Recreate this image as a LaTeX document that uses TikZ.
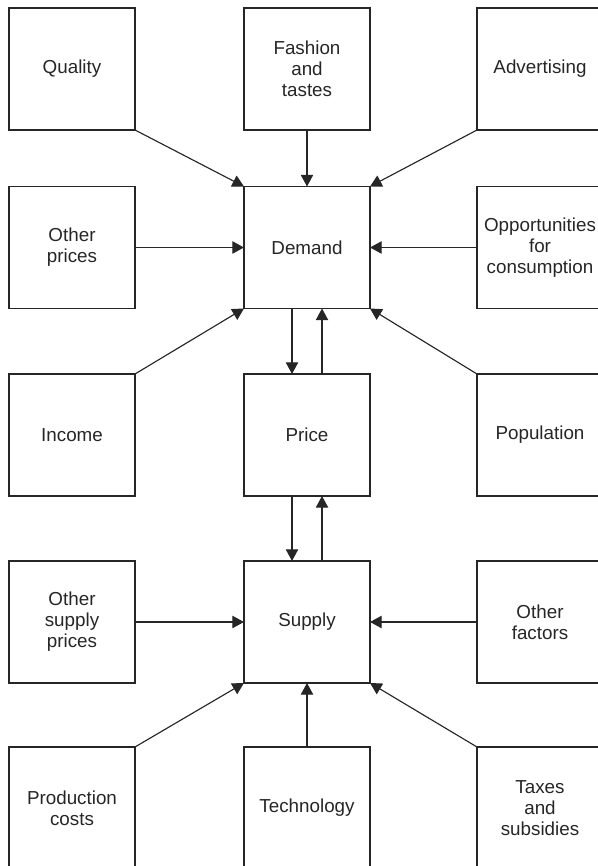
\documentclass[tikz,border=0pt]{standalone}
\usepackage{fontspec}
\setmainfont{Liberation Sans}
\usetikzlibrary{arrows.meta}
\begin{document}
\begin{tikzpicture}[
  box/.style={draw=black!85,line width=0.65pt,minimum width=2.52cm,minimum height=2.44cm,
    inner sep=0pt,outer sep=0pt,align=center,text=black!85,font=\fontsize{10.7}{12}\selectfont},
  arr/.style={draw=black!85,line width=0.65pt,-{Triangle[length=6.6pt,width=7pt]}}]
\useasboundingbox (0,0) rectangle (11.94,17.32);
% top row
\node[box] (quality) at (1.44,15.94) {Quality};
\node[box] (fashion) at (6.14,15.94) {Fashion\\and\\tastes};
\node[box] (advert) at (10.80,15.94) {Advertising};
% demand row
\node[box] (otherprices) at (1.44,12.37) {Other\\prices};
\node[box] (demand) at (6.14,12.37) {Demand};
\node[box] (opport) at (10.80,12.37) {Opportunities\\for\\consumption};
% price row
\node[box] (income) at (1.44,8.62) {Income};
\node[box] (price) at (6.14,8.62) {Price};
\node[box] (popul) at (10.80,8.62) {Population};
% supply row
\node[box] (othersupply) at (1.44,4.88) {Other\\supply\\prices};
\node[box] (supply) at (6.14,4.88) {Supply};
\node[box] (otherfact) at (10.80,4.88) {Other\\factors};
% bottom row
\node[box] (prodcost) at (1.44,1.16) {Production\\costs};
\node[box] (techno) at (6.14,1.16) {Technology};
\node[box] (taxes) at (10.80,1.16) {Taxes\\and\\subsidies};
% into demand
\draw[arr] (quality.south east) -- (demand.north west);
\draw[arr] (fashion) -- (demand);
\draw[arr] (advert.south west) -- (demand.north east);
\draw[arr] (otherprices) -- (demand);
\draw[arr] (opport) -- (demand);
\draw[arr] (income.north east) -- (demand.south west);
\draw[arr] (popul.north west) -- (demand.south east);
% demand <-> price <-> supply
\draw[arr] ([xshift=-0.3cm]demand.south) -- ([xshift=-0.3cm]price.north);
\draw[arr] ([xshift=0.3cm]price.north) -- ([xshift=0.3cm]demand.south);
\draw[arr] ([xshift=-0.3cm]price.south) -- ([xshift=-0.3cm]supply.north);
\draw[arr] ([xshift=0.3cm]supply.north) -- ([xshift=0.3cm]price.south);
% into supply
\draw[arr] (othersupply) -- (supply);
\draw[arr] (otherfact) -- (supply);
\draw[arr] (prodcost.north east) -- (supply.south west);
\draw[arr] (techno) -- (supply);
\draw[arr] (taxes.north west) -- (supply.south east);
\end{tikzpicture}
\end{document}
